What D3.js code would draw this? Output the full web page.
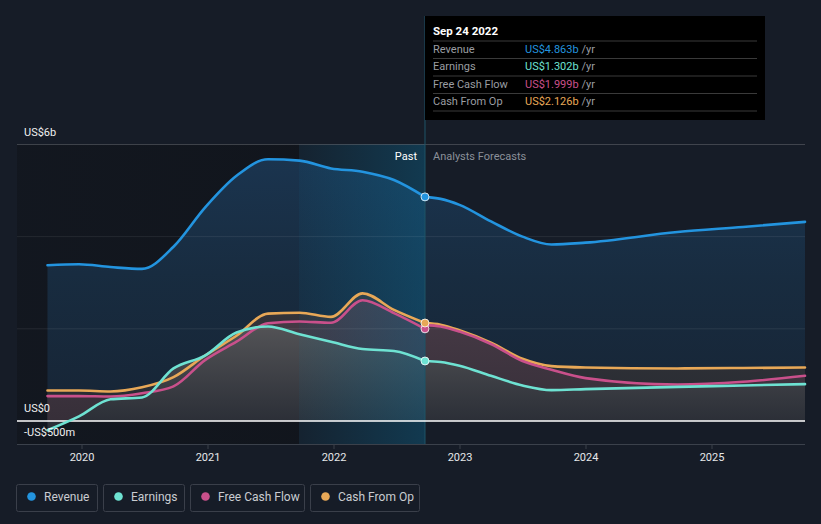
<!DOCTYPE html>
<html><head><meta charset="utf-8">
<script src="https://cdn.jsdelivr.net/npm/d3@7"></script>
<style>
html,body{margin:0;padding:0;background:#161c27;}
svg{display:block;font-family:Roboto,"Noto Sans",sans-serif;}
</style></head>
<body><svg id="c" width="821" height="524"></svg>
<script>
// ---- data (US$ billions) ----
const pastDates = [2019.73,2019.98,2020.23,2020.48,2020.73,2020.98,2021.23,2021.48,2021.73,2021.98,2022.23,2022.48,2022.726];
const revenuePast  = [3.38,3.40,3.34,3.30,3.78,4.63,5.32,5.68,5.65,5.48,5.41,5.23,4.863];
const earningsPast = [-0.20,0.10,0.47,0.51,1.14,1.42,1.92,2.05,1.88,1.72,1.56,1.52,1.302];
const fcfPast      = [0.54,0.54,0.53,0.60,0.75,1.32,1.72,2.12,2.16,2.13,2.62,2.34,1.999];
const cfoPast      = [0.66,0.66,0.64,0.73,0.95,1.42,1.85,2.33,2.35,2.26,2.77,2.41,2.126];

const forecastDates    = [2022.726,2022.85,2023.0,2023.25,2023.5,2023.73,2024.0,2024.73,2025.25,2025.742];
const revenueForecast  = [4.863,4.82,4.69,4.33,4.00,3.83,3.87,4.10,4.21,4.32];
const earningsForecast = [1.302,1.28,1.20,0.98,0.77,0.67,0.69,0.74,0.77,0.80];
const fcfForecast      = [2.08,2.05,1.94,1.67,1.30,1.11,0.93,0.79,0.85,0.98];
const cfoForecast      = [2.13,2.09,1.97,1.70,1.35,1.19,1.16,1.14,1.15,1.16];

const yearTicks = [2020,2021,2022,2023,2024,2025];
const yLabelValues = [6,0,-0.5];
const yLabelTexts = ["US$6b","US$0","-US$500m"];
const gridValues = [2,4,6];

const seriesNames = ["Revenue","Earnings","Free Cash Flow","Cash From Op"];
const seriesColors = ["#2394df","#6ee2d2","#c9508b","#e8a857"];
const tooltipDate = "Sep 24 2022";
const tooltipValues = ["US$4.863b","US$1.302b","US$1.999b","US$2.126b"];
const todayT = 2022.726, pastStartT = 2021.726;

// ---- layout ----
const svg = d3.select("#c");
const L=17, R=805, T=144.5, B=444;
const x = d3.scaleLinear().domain([2019.488, 2025.742]).range([L,R]);
const y = d3.scaleLinear().domain([-0.5,6]).range([B,T]);
const defs = svg.append("defs");

function vgrad(id, stops){
  const g = defs.append("linearGradient").attr("id",id).attr("gradientUnits","userSpaceOnUse")
    .attr("x1",0).attr("x2",0).attr("y1",T).attr("y2",y(0));
  stops.forEach(s=>g.append("stop").attr("offset",s[0]).attr("stop-color",s[1]));
}
function hgrad(id, x1, x2, stops){
  const g = defs.append("linearGradient").attr("id",id).attr("gradientUnits","userSpaceOnUse")
    .attr("x1",x1).attr("x2",x2).attr("y1",0).attr("y2",0);
  stops.forEach(s=>g.append("stop").attr("offset",s[0]).attr("stop-color",s[1]).attr("stop-opacity",s[2]));
}
vgrad("gRev",[[0,"#1b3652"],[0.5,"#182c40"],[1,"#172536"]]);
vgrad("gCfo",[[0,"#4a4238"],[0.6,"#35343a"],[1,"#272b31"]]);
vgrad("gFcf",[[0,"#5a4552"],[0.6,"#473a46"],[1,"#372f39"]]);
vgrad("gEar",[[0,"#7a7670"],[0.6,"#5a5a5c"],[1,"#2b2f37"]]);
hgrad("gDark", L, x(pastStartT), [[0,"#0e1116",0.45],[1,"#0e1116",0.6]]);
hgrad("gPast", x(pastStartT), x(todayT), [[0,"#0a6f9a",0.08],[1,"#0a6f9a",0.36]]);

// dark background of older history
svg.append("rect").attr("x",L).attr("y",T).attr("width",x(pastStartT)-L).attr("height",B-T).attr("fill","url(#gDark)");

const curve = d3.curveMonotoneX;
function mk(dates, vals){ return dates.map((d,i)=>({t:d,v:vals[i]})); }
const past = [revenuePast,earningsPast,fcfPast,cfoPast].map(a=>mk(pastDates,a));
const fut  = [revenueForecast,earningsForecast,fcfForecast,cfoForecast].map(a=>mk(forecastDates,a));

const area = d3.area().x(d=>x(d.t)).y0(y(0)).y1(d=>y(d.v)).curve(curve);
const line = d3.line().x(d=>x(d.t)).y(d=>y(d.v)).curve(curve);

const fills = ["url(#gRev)","url(#gEar)","url(#gFcf)","url(#gCfo)"];
const drawOrder = [0,3,2,1];
drawOrder.forEach(i=>{
  [past[i],fut[i]].forEach(dat=>{
    svg.append("path").attr("d",area(dat)).attr("fill",fills[i]).attr("fill-opacity",0.97);
  });
});

// past-year highlight
svg.append("rect").attr("x",x(pastStartT)).attr("y",T).attr("width",x(todayT)-x(pastStartT)).attr("height",B-T).attr("fill","url(#gPast)");

// gridlines
svg.append("g").selectAll("line").data(gridValues).join("line")
  .attr("x1",L).attr("x2",R).attr("y1",d=>y(d)).attr("y2",d=>y(d))
  .attr("stroke","#ffffff").attr("stroke-opacity",d=>d===6?0.18:0.08).attr("stroke-width",1);

// today vertical line
svg.append("line").attr("x1",x(todayT)).attr("x2",x(todayT)).attr("y1",16).attr("y2",B)
  .attr("stroke","#1f5468").attr("stroke-width",1);

// x axis
const xAxis = d3.axisBottom(x).tickValues(yearTicks).tickFormat(d3.format("d")).tickSize(5).tickPadding(4);
const gx = svg.append("g").attr("transform",`translate(0,${B})`).call(xAxis);
gx.select(".domain").attr("stroke","#3b414b").attr("d",`M${L},0.5H${R}`);
gx.selectAll(".tick line").attr("stroke","#3b414b");
gx.selectAll(".tick text").attr("fill","#e6e8ea").attr("font-size",11).attr("font-family","Roboto");

// zero line
svg.append("line").attr("x1",L).attr("x2",R).attr("y1",y(0)).attr("y2",y(0)).attr("stroke","#ffffff").attr("stroke-width",1.5);

// lines
[0,3,2,1].forEach(i=>{
  [past[i],fut[i]].forEach(dat=>{
    svg.append("path").attr("d",line(dat)).attr("fill","none").attr("stroke",seriesColors[i]).attr("stroke-width",2.6).attr("stroke-linecap","round");
  });
});

// dots at today
[0,1,2,3].forEach(i=>{
  svg.append("circle").attr("cx",x(todayT)).attr("cy",y(past[i][past[i].length-1].v)).attr("r",4)
    .attr("fill",seriesColors[i]).attr("stroke","#ffffff").attr("stroke-width",0.8);
});

// y labels
svg.append("g").selectAll("text").data(yLabelValues).join("text")
  .attr("x",24).attr("y",d=> y(d)-8.5)
  .attr("fill","#f0f0f0").attr("font-size",11).text((d,i)=>yLabelTexts[i]);

// Past / Forecast labels
svg.append("text").attr("x",x(todayT)-8).attr("y",160).attr("text-anchor","end").attr("fill","#ffffff").attr("font-size",11).text("Past");
svg.append("text").attr("x",x(todayT)+8).attr("y",160).attr("fill","#8b9099").attr("font-size",11).text("Analysts Forecasts");

// tooltip
const tt = svg.append("g");
tt.append("rect").attr("x",425).attr("y",16).attr("width",340).attr("height",104).attr("fill","#000000");
tt.append("text").attr("x",433).attr("y",35).attr("fill","#ffffff").attr("font-size",11.5).attr("font-weight","bold").text(tooltipDate);
const rowY = [52.5,70,87.5,104.5];
[41,58.5,76,93.5,111].forEach(v=>tt.append("line").attr("x1",433).attr("x2",757).attr("y1",v).attr("y2",v).attr("stroke","#3a3a3a").attr("stroke-width",1));
seriesNames.forEach((n,i)=>{
  tt.append("text").attr("x",433).attr("y",rowY[i]).attr("fill","#9a9da2").attr("font-size",11).text(n);
  const t = tt.append("text").attr("x",525).attr("y",rowY[i]).attr("font-size",11);
  t.append("tspan").attr("fill",seriesColors[i]).text(tooltipValues[i]);
  t.append("tspan").attr("fill","#9a9da2").text(" /yr");
});

// legend
const lg = svg.append("g");
let lx = 16;
const widths = [82,82,115,110];
seriesNames.forEach((n,i)=>{
  const g = lg.append("g").attr("transform",`translate(${lx},484)`);
  g.append("rect").attr("x",0.5).attr("y",0.5).attr("width",widths[i]-1).attr("height",27).attr("rx",2)
    .attr("fill","none").attr("stroke","#3a3f4a");
  g.append("circle").attr("cx",15.5).attr("cy",12.5).attr("r",4.3).attr("fill",seriesColors[i]);
  g.append("text").attr("x",28).attr("y",16.5).attr("fill","#c9ccd1").attr("font-size",12).text(n);
  lx += widths[i] + 5;
});
</script></body></html>
